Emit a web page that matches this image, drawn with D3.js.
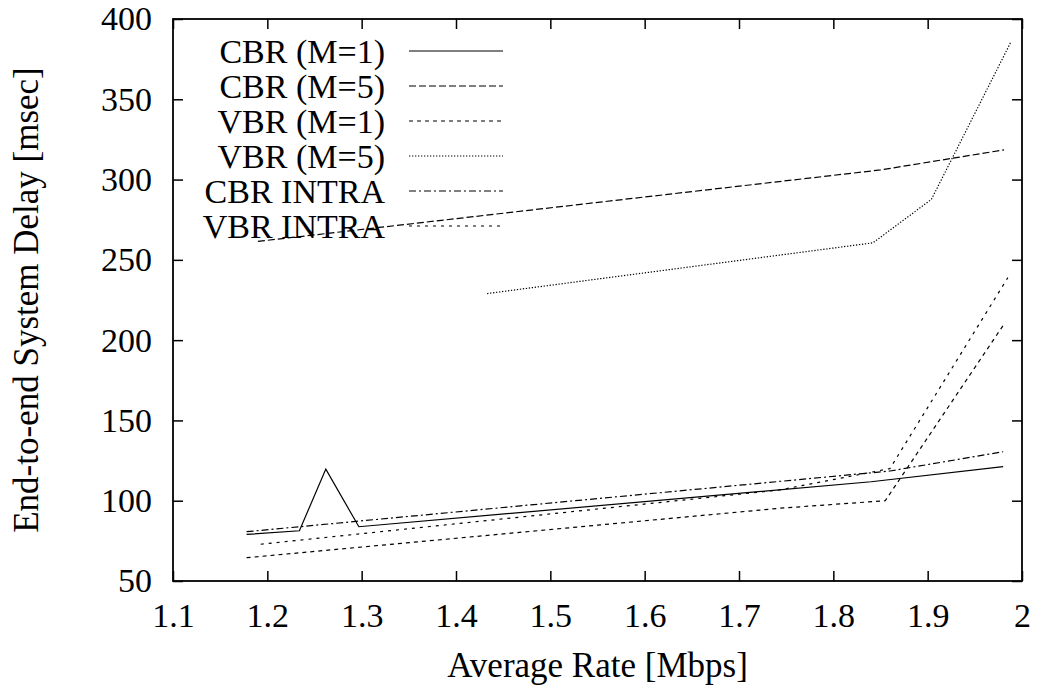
<!DOCTYPE html>
<html>
<head>
<meta charset="utf-8">
<script src="https://cdn.jsdelivr.net/npm/d3@7"></script>
<style>
  body { margin: 0; background: #fff; }
</style>
</head>
<body>
<div id="chart"></div>
<script>
// values
const cbrM1 = [[1.178, 79], [1.234, 81.3], [1.262, 119.7], [1.297, 83.8], [1.84, 111.8], [1.98, 121.2]];
const cbrM5 = [[1.19, 261.5], [1.85, 306], [1.981, 318.5]];
const vbrM1 = [[1.178, 64.5], [1.743, 95.3], [1.855, 100], [1.981, 210]];
const vbrM5 = [[1.433, 229], [1.842, 260.6], [1.904, 287.7], [1.988, 385.4]];
const cbrIntra = [[1.178, 80.7], [1.86, 118.5], [1.98, 130.5]];
const vbrIntra = [[1.193, 72.9], [1.743, 106.7], [1.86, 120], [1.985, 238.9]];

const seriesNames = ["CBR (M=1)", "CBR (M=5)", "VBR (M=1)", "VBR (M=5)", "CBR INTRA", "VBR INTRA"];
const seriesData = [cbrM1, cbrM5, vbrM1, vbrM5, cbrIntra, vbrIntra];
const dashes = ["none", "7,3", "4,4", "1.3,1.7", "7,3,2,3", "3,5"];

const xTicks = [1.1, 1.2, 1.3, 1.4, 1.5, 1.6, 1.7, 1.8, 1.9, 2];
const yTicks = [50, 100, 150, 200, 250, 300, 350, 400];

const FONT = "'Liberation Serif', Tinos, 'Times New Roman', Times, 'Nimbus Roman', 'DejaVu Serif', serif";

const width = 1038, height = 695;
const margin = { top: 19, right: 16, bottom: 114, left: 173 };

const svg = d3.select("#chart").append("svg")
  .attr("width", width)
  .attr("height", height)
  .attr("font-family", FONT);

const x = d3.scaleLinear().domain([1.1, 2]).range([margin.left, width - margin.right]);
const y = d3.scaleLinear().domain([50, 400]).range([height - margin.bottom, margin.top]);

const fmtX = (d) => (d === 2 ? "2" : d3.format(".1f")(d));

// axes, ticks point inward like gnuplot
svg.append("g")
  .attr("transform", `translate(0,${y(50)})`)
  .call(d3.axisBottom(x).tickValues(xTicks).tickFormat(fmtX).tickSize(-10).tickSizeOuter(0).tickPadding(22));
svg.append("g")
  .attr("transform", `translate(${x(1.1)},0)`)
  .call(d3.axisLeft(y).tickValues(yTicks).tickSize(-10).tickSizeOuter(0).tickPadding(21));
svg.append("g")
  .attr("transform", `translate(0,${y(400)})`)
  .call(d3.axisTop(x).tickValues(xTicks).tickFormat("").tickSize(-10).tickSizeOuter(0));
svg.append("g")
  .attr("transform", `translate(${x(2)},0)`)
  .call(d3.axisRight(y).tickValues(yTicks).tickFormat("").tickSize(-10).tickSizeOuter(0));

svg.selectAll(".domain").remove();
svg.selectAll("g").attr("font-family", FONT);
svg.selectAll(".tick line").attr("stroke", "#000").attr("stroke-width", 1.5);
svg.selectAll(".tick text")
  .attr("font-family", FONT)
  .attr("font-size", 34)
  .attr("fill", "#000");

svg.append("rect")
  .attr("x", x(1.1)).attr("y", y(400))
  .attr("width", x(2) - x(1.1)).attr("height", y(50) - y(400))
  .attr("fill", "none").attr("stroke", "#000").attr("stroke-width", 1.8);

// series
const line = d3.line().x((d) => x(d[0])).y((d) => y(d[1]));
svg.append("g").selectAll("path")
  .data(seriesData)
  .join("path")
  .attr("d", line)
  .attr("fill", "none")
  .attr("stroke", "#000")
  .attr("stroke-width", 1.2)
  .attr("stroke-dasharray", (d, i) => dashes[i]);

// legend
const legend = svg.append("g");
seriesNames.forEach((name, i) => {
  const ly = 51 + i * 35;
  legend.append("text")
    .attr("x", 385).attr("y", ly + 12)
    .attr("text-anchor", "end")
    .attr("font-family", FONT)
    .attr("font-size", 34)
    .text(name);
  legend.append("line")
    .attr("x1", 409).attr("x2", 503)
    .attr("y1", ly).attr("y2", ly)
    .attr("stroke", "#000")
    .attr("stroke-width", 1.2)
    .attr("stroke-dasharray", dashes[i]);
});

// axis titles
svg.append("text")
  .attr("x", (x(1.1) + x(2)) / 2)
  .attr("y", 677)
  .attr("text-anchor", "middle")
  .attr("font-family", FONT)
  .attr("font-size", 35)
  .text("Average Rate [Mbps]");

svg.append("text")
  .attr("transform", `translate(38,${(y(50) + y(400)) / 2}) rotate(-90)`)
  .attr("text-anchor", "middle")
  .attr("font-family", FONT)
  .attr("font-size", 35)
  .text("End-to-end System Delay [msec]");
</script>
</body>
</html>
